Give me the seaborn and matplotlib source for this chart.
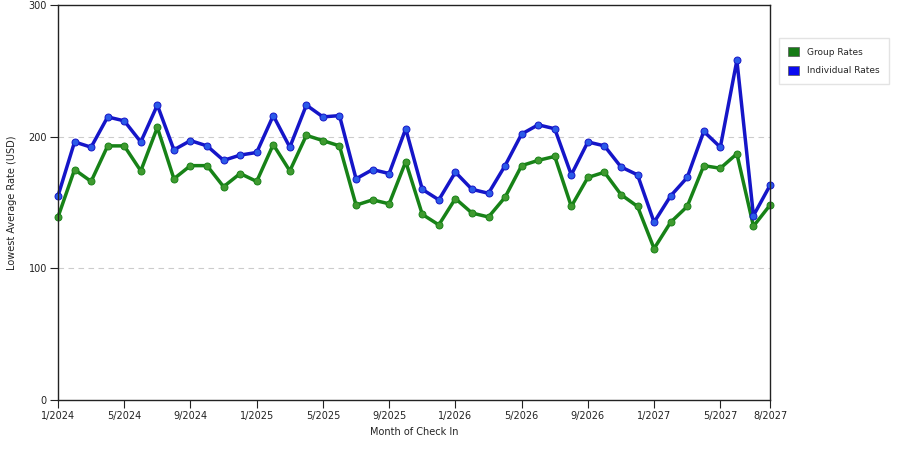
import numpy as np
import pandas as pd
import seaborn as sns
import matplotlib.pyplot as plt
from matplotlib.patches import Patch

# monthly lowest average rates, 1/2024 .. 8/2027
months = [f"{(i % 12) + 1}/{2024 + i // 12}" for i in range(44)]

group_rates = [139, 175, 166, 193, 193, 174, 207, 168, 178, 178, 162, 172, 166, 194,
               174, 201, 197, 193, 148, 152, 149, 181, 141, 133, 153, 142, 139, 154,
               178, 182, 185, 147, 169, 173, 156, 147, 115, 135, 147, 178, 176, 187,
               132, 148]
individual_rates = [155, 196, 192, 215, 212, 196, 224, 190, 197, 193, 182, 186, 188, 216,
                    192, 224, 215, 216, 168, 175, 172, 206, 160, 152, 173, 160, 157, 178,
                    202, 209, 206, 171, 196, 193, 177, 171, 135, 155, 169, 204, 192, 258,
                    140, 163]

tick_idx = [0, 4, 8, 12, 16, 20, 24, 28, 32, 36, 40, 43]
tick_labels = [months[i] for i in tick_idx]

df = pd.DataFrame({
    "Month": list(range(44)) * 2,
    "Rate": group_rates + individual_rates,
    "Series": ["Group Rates"] * 44 + ["Individual Rates"] * 44,
})

sns.set_style("white")
plt.rcParams["font.family"] = ["DejaVu Sans"]

line_colors = {"Group Rates": "#178217", "Individual Rates": "#1515c8"}
marker_colors = {"Group Rates": "#3f9a2f", "Individual Rates": "#2a5ae8"}
legend_colors = {"Group Rates": "#157a15", "Individual Rates": "#0a0af0"}

fig = plt.figure(figsize=(9, 4.5), dpi=100)
ax = fig.add_axes([58 / 900, 1 - 400 / 450, (770 - 58) / 900, 395 / 450])

for name in ["Group Rates", "Individual Rates"]:
    sub = df[df["Series"] == name]
    sns.lineplot(data=sub, x="Month", y="Rate", ax=ax, color=line_colors[name],
                 linewidth=2.5, marker="o", markersize=5,
                 markerfacecolor=marker_colors[name], markeredgecolor=line_colors[name],
                 markeredgewidth=0.7, legend=False, clip_on=False)

ax.set_xlim(0, 43)
ax.set_ylim(0, 300)
ax.set_yticks([0, 100, 200, 300])
ax.set_xticks(tick_idx)
ax.set_xticklabels(tick_labels)
ax.tick_params(axis="both", labelsize=7, direction="out", length=6, width=0.8,
               colors="#222222", pad=2, bottom=True, left=True)
for y in [100, 200]:
    ax.axhline(y, color="#cccccc", linestyle=(0, (5, 4)), linewidth=0.8, zorder=0)
for s in ax.spines.values():
    s.set_color("#222222")
    s.set_linewidth(1.0)

ax.set_xlabel("Month of Check In", fontsize=7, color="#222222", labelpad=4)
ax.set_ylabel("Lowest Average Rate (USD)", fontsize=7, color="#222222", labelpad=8)

handles = [Patch(facecolor=legend_colors[n], edgecolor="#555555", linewidth=0.5, label=n)
           for n in ["Group Rates", "Individual Rates"]]
fig.legend(handles=handles, loc="upper left", bbox_to_anchor=(779 / 900, 1 - 38 / 450),
           fontsize=6.5, frameon=True, fancybox=False, edgecolor="#dddddd",
           handlelength=1.2, handleheight=1.2, handletextpad=0.9, borderpad=1.0,
           labelspacing=1.0, borderaxespad=0)

fig.savefig("out.png", dpi=100)
